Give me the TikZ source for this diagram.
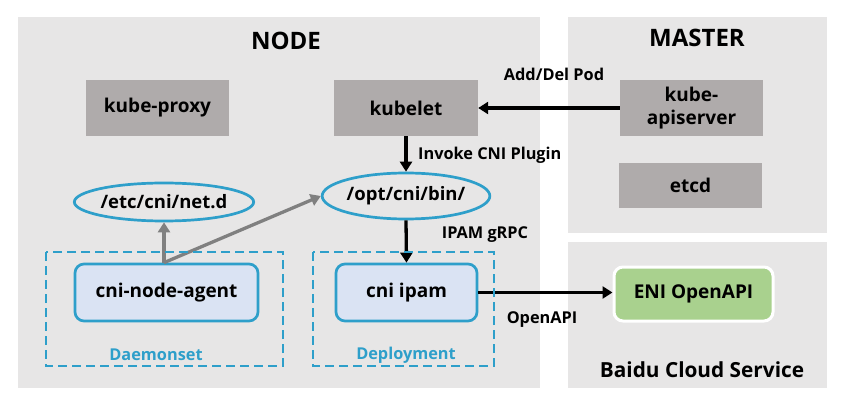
\documentclass[tikz,border=0pt]{standalone}
\usepackage{fontspec}
\setmainfont{Open Sans}
\usetikzlibrary{positioning,arrows.meta,shapes.geometric}

\definecolor{panelgray}{HTML}{E7E6E6}
\definecolor{boxgray}{HTML}{AFABAB}
\definecolor{cniblue}{HTML}{2E9FCA}
\definecolor{agentfill}{HTML}{DAE3F3}
\definecolor{enigreen}{HTML}{A9D18E}

\tikzset{
    graybox/.style={fill=boxgray, minimum width=143pt, minimum height=56pt, align=center,
        inner sep=0pt, font=\fontsize{19}{23}\selectfont\bfseries},
    dirnode/.style={ellipse, draw=cniblue, line width=2.7pt, inner sep=0pt,
        font=\fontsize{18.5}{22}\selectfont\bfseries},
    podbox/.style={draw=cniblue, fill=agentfill, line width=2.7pt, rounded corners=9pt,
        minimum height=57pt, font=\fontsize{19}{22}\selectfont\bfseries},
    groupbox/.style={draw=cniblue, line width=2.7pt, dash pattern=on 9pt off 5pt},
    title/.style={font=\fontsize{24}{28}\selectfont\bfseries},
    lbl/.style={font=\fontsize{16.3}{19}\selectfont\bfseries},
    arr/.style={line width=3.3pt, -{Triangle[length=10pt,width=12pt]}},
    grayarr/.style={draw=gray, line width=3.3pt, -{Triangle[length=10pt,width=12pt]}}
}

\begin{document}
\begin{tikzpicture}[x=1pt,y=-1pt]
    \useasboundingbox (0,0) rectangle (846,406);

    \fill[panelgray] (18,17) rectangle (540,388);
    \fill[panelgray] (568,17) rectangle (827,233);
    \fill[panelgray] (568,242) rectangle (827,388);

    \node[title] (nodetitle) at (286,41) {NODE};
    \node[title] (mastertitle) at (697,38) {MASTER};
    \node[font=\fontsize{20.8}{24}\selectfont\bfseries] (cloudtitle) at (702,370) {Baidu Cloud Service};

    \node[graybox] (proxy) at (157.5,108) {kube-proxy};
    \node[graybox, minimum width=144pt] (kubelet) at (406,108) {kubelet};
    \node[graybox] (apiserver) at (691.5,108) {kube-\\apiserver};
    \node[graybox, minimum height=45pt] (etcd) at (690.5,185.5) {etcd};

    \node[dirnode, minimum width=163pt, minimum height=38pt] (netd) at (164,202) {/etc/cni/net.d};
    \node[dirnode, minimum width=162pt, minimum height=46pt] (optbin) at (406,196) {/opt/cni/bin/};

    \node[podbox, minimum width=183pt] (agent) at (166.5,292.5) {cni-node-agent};
    \node[podbox, minimum width=141pt] (ipam) at (406.5,292.5) {cni ipam};
    \node[draw=white, fill=enigreen, line width=3pt, rounded corners=9pt, minimum width=159pt,
        minimum height=54pt, font=\fontsize{19}{22}\selectfont\bfseries] (eni) at (693.5,294) {ENI OpenAPI};

    \draw[arr] (apiserver.west) -- (kubelet.east);
    \draw[arr] (kubelet.south) -- (optbin.north);
    \draw[arr] (optbin.south) -- (ipam.north);
    \draw[arr] (ipam.east) -- (ipam.east -| eni.west);
    \draw[grayarr] (netd.south |- agent.north) -- (netd.south);
    \draw[grayarr] (netd.south |- agent.north) -- (optbin.west);

    \node[lbl] (addlabel) at (554,74) {Add/Del Pod};
    \node[lbl, anchor=west, inner sep=0pt] (invokelabel) at (418,155) {Invoke CNI Plugin};
    \node[lbl] (grpclabel) at (485,235) {IPAM gRPC};
    \node[lbl] (openapilabel) at (542,320) {OpenAPI};

    \draw[groupbox] (46,252) rectangle (283,366);
    \draw[groupbox] (313,252) rectangle (494,366);
    \node[lbl, text=cniblue] (dslabel) at (156,355) {Daemonset};
    \node[lbl, text=cniblue] (deploylabel) at (406,355) {Deployment};
\end{tikzpicture}
\end{document}
